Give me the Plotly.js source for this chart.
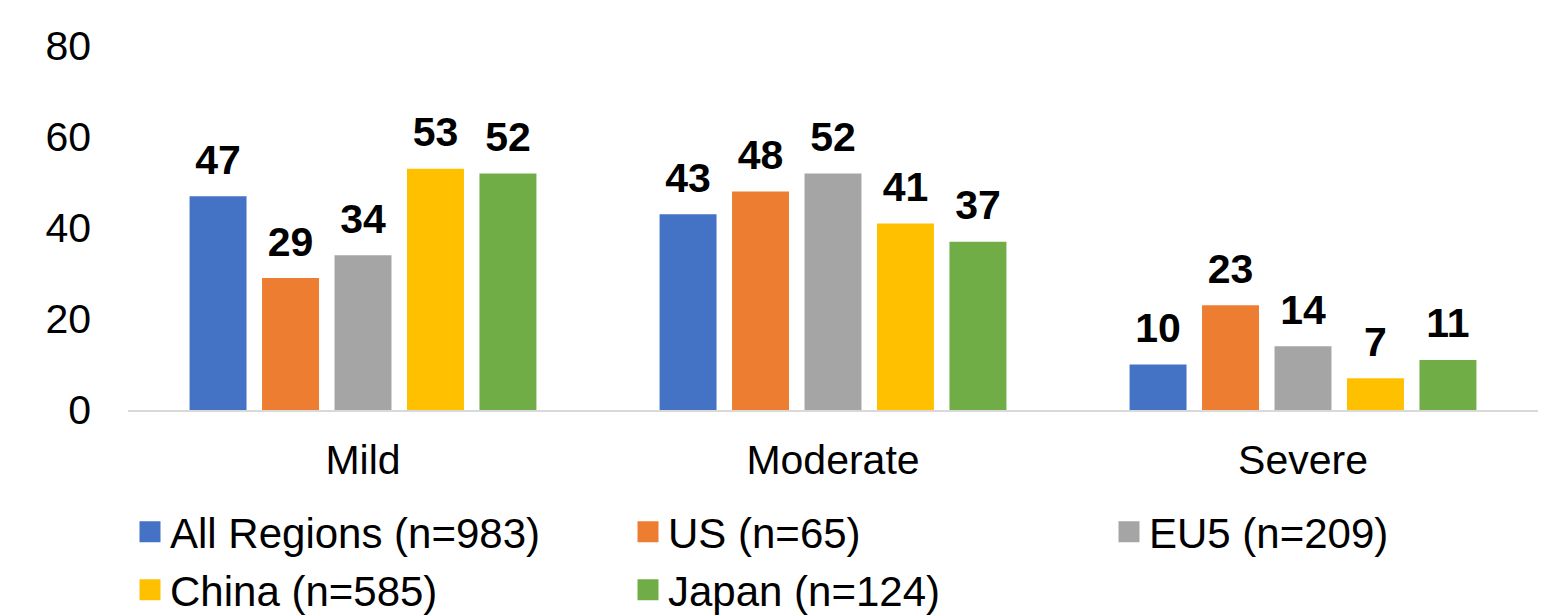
<!DOCTYPE html>
<html>
<head>
<meta charset="utf-8">
<script src="https://cdn.plot.ly/plotly-3.0.1.min.js"></script>
<style>html,body{margin:0;padding:0;background:#fff;}#chart{width:1544px;height:615px;}</style>
</head>
<body>
<div id="chart"></div>
<script>
const categories = ['Mild', 'Moderate', 'Severe'];
const seriesNames = ['All Regions (n=983)', 'US (n=65)', 'EU5 (n=209)', 'China (n=585)', 'Japan (n=124)'];
const allRegions = [47, 43, 10];
const us = [29, 48, 23];
const eu5 = [34, 52, 14];
const china = [53, 41, 7];
const japan = [52, 37, 11];
const yTicks = [0, 20, 40, 60, 80];

const seriesValues = [allRegions, us, eu5, china, japan];
const colors = ['#4472C4', '#ED7D31', '#A5A5A5', '#FFC000', '#70AD47'];
const FONT = 'Liberation Sans, Arial, sans-serif';
const FS = 41;
const LFS = 42;

// legend placement (container pixels): [left, rowCenter]
const legendSpots = [[130, 532], [628, 532], [1109, 532], [130, 590], [628, 590]];
const legendIds = ['legend', 'legend2', 'legend3', 'legend4', 'legend5'];

const traces = [];
seriesValues.forEach((vals, i) => {
  traces.push({
    type: 'bar', x: categories, y: vals, name: seriesNames[i],
    offsetgroup: 'g' + i, showlegend: false,
    marker: {color: colors[i]}, hoverinfo: 'x+y+name'
  });
});
seriesValues.forEach((vals, i) => {
  traces.push({
    type: 'scatter', mode: 'markers+text', x: categories, y: vals,
    text: vals.map(String), texttemplate: '<b>%{text}</b>',
    textposition: 'top center', offsetgroup: 'g' + i, showlegend: false,
    marker: {size: 18, opacity: 0, color: colors[i]},
    textfont: {family: FONT, size: FS, color: '#000'},
    cliponaxis: false, hoverinfo: 'skip'
  });
});
seriesValues.forEach((vals, i) => {
  traces.push({
    type: 'scatter', mode: 'markers', x: [null], y: [null], name: seriesNames[i],
    offsetgroup: 'g' + i, legend: legendIds[i],
    marker: {symbol: 'square', size: 16, color: colors[i], line: {width: 5, color: colors[i]}},
    hoverinfo: 'skip'
  });
});

const layout = {
  width: 1544, height: 615,
  margin: {l: 128, r: 6, t: 46, b: 205, autoexpand: false},
  paper_bgcolor: '#fff', plot_bgcolor: '#fff',
  barmode: 'group', bargap: 0.229, bargroupgap: 0.214,
  scattermode: 'group', scattergap: 0.229,
  font: {family: FONT, size: FS, color: '#000'},
  xaxis: {
    type: 'category', showline: true, linecolor: '#D9D9D9', linewidth: 2,
    ticks: '', showgrid: false, zeroline: false, tickangle: 0,
    tickfont: {family: FONT, size: FS, color: '#000'}, ticklabelstandoff: 13
  },
  yaxis: {
    range: [0, 80], tickvals: yTicks, ticktext: yTicks.map(String),
    showgrid: false, zeroline: false, showline: false, ticks: '',
    tickfont: {family: FONT, size: FS, color: '#000'}, ticklabelstandoff: 36
  },
  showlegend: true
};
legendIds.forEach((id, i) => {
  layout[id] = {
    orientation: 'h', xref: 'container', yref: 'container',
    x: legendSpots[i][0] / 1544, y: 1 - legendSpots[i][1] / 615,
    xanchor: 'left', yanchor: 'middle',
    font: {family: FONT, size: LFS, color: '#000'},
    bgcolor: 'rgba(0,0,0,0)', itemclick: false, itemdoubleclick: false
  };
});

Plotly.newPlot('chart', traces, layout, {displayModeBar: false, responsive: false});
</script>
</body>
</html>
